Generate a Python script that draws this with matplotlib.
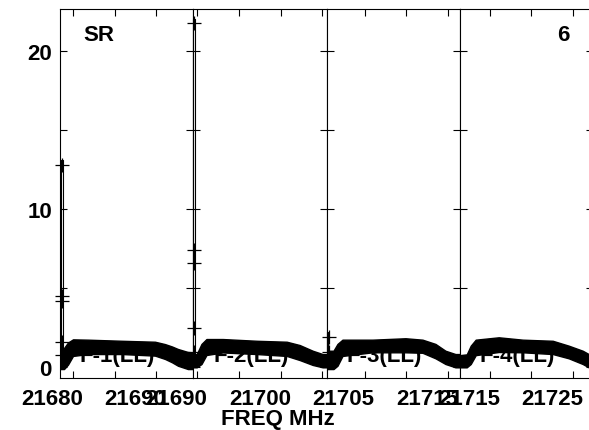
import numpy as np
import matplotlib
matplotlib.use("Agg")
import matplotlib.pyplot as plt
from matplotlib.transforms import ScaledTranslation

plt.rcParams['font.family'] = ['Liberation Sans', 'DejaVu Sans']
plt.rcParams['font.weight'] = 'bold'

# spectrum envelopes (lower / upper edge of the noisy band), one set per sub-band
P1_FREQ = [21678.44, 21678.92, 21679.40, 21680.00, 21681.81, 21685.89,
           21689.86, 21691.06, 21691.90, 21692.62, 21693.82, 21694.46]
P1_TOP = [1.10, 1.20, 1.55, 1.75, 1.73, 1.66, 1.60, 1.45, 1.30, 1.14, 0.95, 0.93]
P1_BOT = [-0.13, -0.13, 0.15, 0.70, 0.82, 0.82, 0.72, 0.51, 0.30, 0.08, -0.13, -0.13]

P2_FREQ = [21689.50, 21689.92, 21690.49, 21691.09, 21693.05, 21697.13,
           21700.74, 21702.30, 21703.86, 21705.06, 21705.52]
P2_TOP = [0.82, 0.82, 1.46, 1.77, 1.77, 1.66, 1.60, 1.39, 1.03, 0.82, 0.82]
P2_BOT = [-0.02, -0.02, 0.19, 0.76, 0.92, 0.82, 0.70, 0.44, 0.13, -0.02, -0.02]

P3_FREQ = [21700.43, 21701.27, 21701.75, 21702.35, 21705.96, 21709.93,
           21711.97, 21713.53, 21714.73, 21715.93, 21716.45]
P3_TOP = [1.03, 1.03, 1.46, 1.73, 1.73, 1.82, 1.73, 1.46, 1.03, 0.82, 0.82]
P3_BOT = [-0.13, -0.13, 0.08, 0.70, 0.93, 0.93, 0.90, 0.55, 0.19, -0.02, -0.02]

P4_FREQ = [21711.39, 21712.23, 21712.71, 21713.31, 21716.08, 21718.96,
           21722.57, 21724.49, 21726.17, 21726.89, 21727.41]
P4_TOP = [0.75, 0.80, 1.35, 1.73, 1.88, 1.73, 1.66, 1.35, 1.03, 0.82, 0.80]
P4_BOT = [-0.02, -0.02, 0.19, 0.75, 0.95, 0.93, 0.82, 0.55, 0.19, -0.02, -0.02]

# single-channel spikes: channel edges, peak, and '+' points along them
SPIKE_EDGES = [(21678.56, 21678.84), (21689.50, 21689.76), (21700.49, 21700.67), None]
SPIKE_PEAK = [13.1, 22.0, 2.2, None]
SPIKE_X = [21678.72, 21689.56, 21700.73, None]
SPIKE_PTS = [[12.8, 4.5, 4.2, 1.6, 0.76],
             [21.8, 7.4, 6.6, 2.45, 0.95],
             [1.9, 0.95],
             None]

XLIMS = [(21678.44, 21694.46), (21689.50, 21705.52),
         (21700.43, 21716.45), (21711.39, 21727.41)]
XTICKS = [[21680, 21685, 21690], [21690, 21695, 21700, 21705],
          [21705, 21710, 21715], [21715, 21720, 21725]]
XLABELED = [[21680, 21690], [21690, 21700], [21705, 21715], [21715, 21725]]
BAND_NAMES = ["F-1(LL)", "F-2(LL)", "F-3(LL)", "F-4(LL)"]

W, H = 589, 431
fig = plt.figure(figsize=(W / 100, H / 100), dpi=100)

x0, pw, y0, ph = 60, 133.25, 52, 369
# the frequency labels sit half a tick step left of their tick
shift = ScaledTranslation(-20.8 / 100, 0, fig.dpi_scale_trans)

bands = [(P1_FREQ, P1_TOP, P1_BOT), (P2_FREQ, P2_TOP, P2_BOT),
         (P3_FREQ, P3_TOP, P3_BOT), (P4_FREQ, P4_TOP, P4_BOT)]

for i, (fr, top, bot) in enumerate(bands):
    ax = fig.add_axes([(x0 + i * pw) / W, y0 / H, pw / W, ph / H])
    ax.set_xlim(*XLIMS[i])
    ax.set_ylim(-0.696, 22.66)

    ax.fill_between(fr, bot, top, color='black', linewidth=1.0, edgecolor='black')
    ax.text(XLIMS[i][0] + 20 / 8.32, 0.38, BAND_NAMES[i], fontsize=16,
            ha='left', va='baseline', color='black')

    if SPIKE_EDGES[i] is not None:
        a, b = SPIKE_EDGES[i]
        pk = SPIKE_PEAK[i]
        ax.plot([a, a, b, b], [0.5, pk, pk, 0.5], color='black', lw=0.8, clip_on=False)
        ax.plot([SPIKE_X[i]] * len(SPIKE_PTS[i]), SPIKE_PTS[i], ls='none',
                marker='+', ms=10, mew=0.9, color='black', clip_on=False)

    labels = [str(t) if t in XLABELED[i] else '' for t in XTICKS[i]]
    ax.set_xticks(XTICKS[i], labels)
    ax.set_yticks([0, 10, 20], ['0', '10', '20'])
    ax.set_yticks([5, 15], minor=True)
    ax.tick_params(which='both', direction='in', top=True, right=True,
                   length=5, width=0.8, labelsize=16)
    ax.tick_params(axis='x', pad=7.5)
    ax.tick_params(axis='y', pad=5.8)
    if i > 0:
        ax.tick_params(axis='y', labelleft=False)
    for lab in ax.get_xticklabels():
        lab.set_transform(lab.get_transform() + shift)
    for sp in ax.spines.values():
        sp.set_linewidth(0.8)

    if i == 0:
        ax.text(0.173, 0.932, "SR", transform=ax.transAxes, fontsize=16,
                ha='left', va='center')
    if i == 3:
        ax.text(0.8255, 0.932, "6", transform=ax.transAxes, fontsize=16,
                ha='right', va='center')

fig.text(277.5 / W, (H - 420) / H, "FREQ MHz", fontsize=16, ha='center', va='center')

fig.savefig("out.png", dpi=100)
